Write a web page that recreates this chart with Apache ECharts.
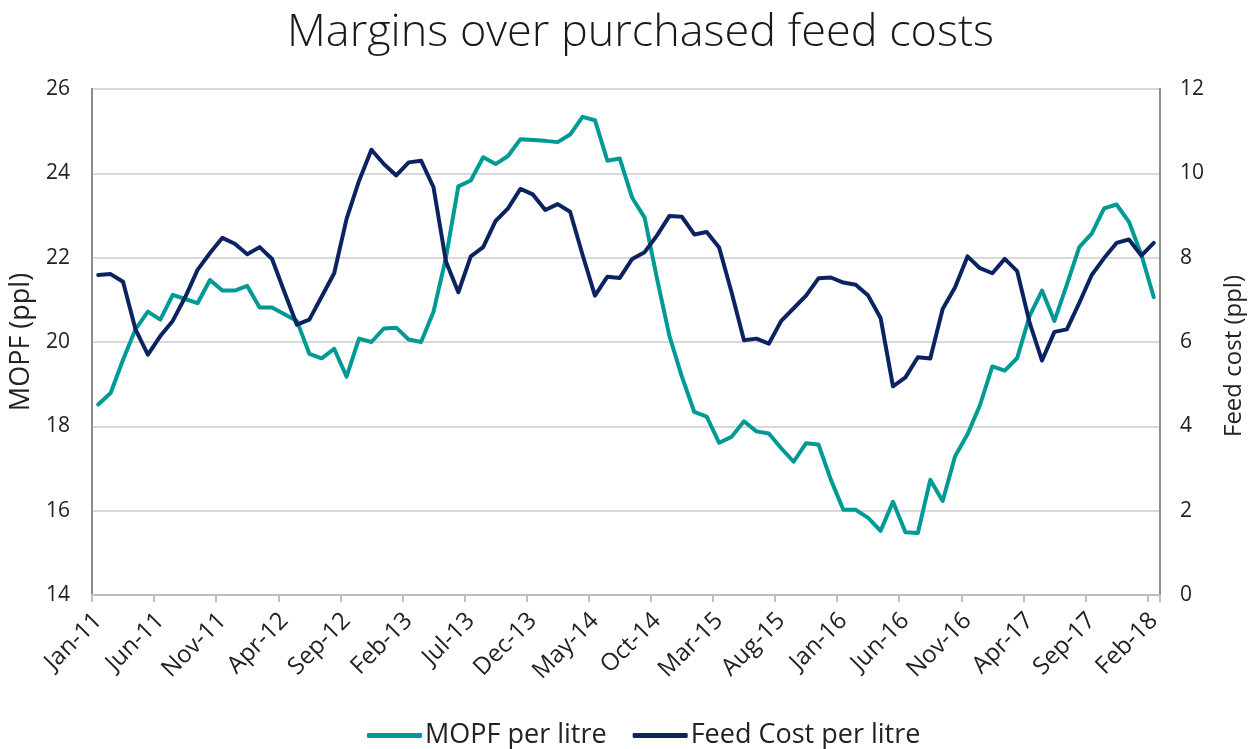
<!DOCTYPE html>
<html>
<head>
<meta charset="utf-8">
<script src="https://cdn.jsdelivr.net/npm/echarts@6/dist/echarts.min.js"></script>
<style>
  html, body { margin: 0; padding: 0; background: #fff; }
  #chart { width: 1258px; height: 749px; }
</style>
</head>
<body>
<div id="chart"></div>
<script>
var months = [
  'Jan-11','Feb-11','Mar-11','Apr-11','May-11','Jun-11','Jul-11','Aug-11','Sep-11','Oct-11','Nov-11','Dec-11',
  'Jan-12','Feb-12','Mar-12','Apr-12','May-12','Jun-12','Jul-12','Aug-12','Sep-12','Oct-12','Nov-12','Dec-12',
  'Jan-13','Feb-13','Mar-13','Apr-13','May-13','Jun-13','Jul-13','Aug-13','Sep-13','Oct-13','Nov-13','Dec-13',
  'Jan-14','Feb-14','Mar-14','Apr-14','May-14','Jun-14','Jul-14','Aug-14','Sep-14','Oct-14','Nov-14','Dec-14',
  'Jan-15','Feb-15','Mar-15','Apr-15','May-15','Jun-15','Jul-15','Aug-15','Sep-15','Oct-15','Nov-15','Dec-15',
  'Jan-16','Feb-16','Mar-16','Apr-16','May-16','Jun-16','Jul-16','Aug-16','Sep-16','Oct-16','Nov-16','Dec-16',
  'Jan-17','Feb-17','Mar-17','Apr-17','May-17','Jun-17','Jul-17','Aug-17','Sep-17','Oct-17','Nov-17','Dec-17',
  'Jan-18','Feb-18'
];

// margin over purchased feed, ppl (left axis)
var mopf = [
  18.52, 18.79, 19.58, 20.30, 20.72, 20.53, 21.12, 21.02, 20.92, 21.47, 21.22, 21.22,
  21.33, 20.82, 20.82, 20.66, 20.50, 19.72, 19.61, 19.84, 19.18, 20.08, 20.00, 20.32,
  20.34, 20.06, 20.00, 20.72, 22.00, 23.69, 23.83, 24.38, 24.22, 24.41, 24.81, 24.79,
  24.77, 24.74, 24.92, 25.34, 25.26, 24.30, 24.35, 23.42, 22.95, 21.50, 20.14, 19.18,
  18.34, 18.23, 17.61, 17.75, 18.12, 17.88, 17.83, 17.48, 17.16, 17.60, 17.57, 16.73,
  16.02, 16.02, 15.83, 15.52, 16.21, 15.49, 15.47, 16.73, 16.23, 17.29, 17.81, 18.50,
  19.42, 19.32, 19.62, 20.62, 21.22, 20.50, 21.36, 22.25, 22.57, 23.17, 23.26, 22.85,
  22.07, 21.06
];

// feed cost per litre, ppl (right axis)
var feedCost = [
  7.59, 7.61, 7.43, 6.30, 5.70, 6.14, 6.50, 7.06, 7.71, 8.11, 8.47, 8.33,
  8.08, 8.25, 7.97, 7.18, 6.41, 6.53, 7.08, 7.63, 8.92, 9.82, 10.56, 10.22,
  9.95, 10.26, 10.30, 9.67, 7.91, 7.18, 8.03, 8.25, 8.87, 9.17, 9.63, 9.50,
  9.13, 9.27, 9.09, 8.07, 7.10, 7.55, 7.52, 7.97, 8.13, 8.53, 8.99, 8.97,
  8.55, 8.61, 8.24, 7.18, 6.04, 6.08, 5.96, 6.50, 6.80, 7.10, 7.51, 7.53,
  7.41, 7.36, 7.10, 6.57, 4.95, 5.16, 5.64, 5.61, 6.78, 7.30, 8.03, 7.75,
  7.63, 7.97, 7.68, 6.46, 5.56, 6.24, 6.30, 6.93, 7.59, 7.99, 8.35, 8.43,
  8.05, 8.35
];

var seriesNames = ['MOPF per litre', 'Feed Cost per litre'];

var fontFamily = '"Open Sans", "DejaVu Sans", sans-serif';
var chart = echarts.init(document.getElementById('chart'));

var option = {
  animation: false,
  textStyle: { fontFamily: fontFamily },
  color: ['#009A96', '#0B2461'],
  title: {
    text: 'Margins over purchased feed costs',
    left: 282,
    top: 6,
    textStyle: { fontSize: 45, fontWeight: 300, color: '#1a1a1a', fontFamily: fontFamily }
  },
  legend: {
    data: seriesNames,
    bottom: -5,
    left: 362,
    icon: 'roundRect',
    itemWidth: 55,
    itemHeight: 5,
    itemGap: 26,
    textStyle: { fontSize: 27, color: '#222', padding: [0, 0, 0, -2] }
  },
  grid: {
    left: 92,
    right: 98,
    top: 89,
    bottom: 154,
    show: true,
    borderColor: '#8c8c8c',
    borderWidth: 2,
    containLabel: false
  },
  xAxis: {
    type: 'category',
    data: months,
    boundaryGap: true,
    axisLine: { lineStyle: { color: '#bfbfbf', width: 2 } },
    axisTick: { show: true, interval: 4, length: 7, lineStyle: { color: '#bfbfbf', width: 2 } },
    axisLabel: { interval: 4, rotate: 45, fontSize: 24, color: '#222', margin: 22 }
  },
  yAxis: [
    {
      type: 'value',
      min: 14,
      max: 26,
      interval: 2,
      name: 'MOPF (ppl)',
      nameLocation: 'middle',
      nameRotate: 90,
      nameGap: 52,
      nameTextStyle: { fontSize: 27, color: '#222' },
      axisLine: { show: true, lineStyle: { color: '#8c8c8c', width: 2 } },
      axisTick: { show: false },
      axisLabel: { fontSize: 21, color: '#222', margin: 22 },
      splitLine: { lineStyle: { color: '#d9d9d9', width: 2 } }
    },
    {
      type: 'value',
      min: 0,
      max: 12,
      interval: 2,
      name: 'Feed cost (ppl)',
      nameLocation: 'middle',
      nameRotate: 90,
      nameGap: 62,
      nameTextStyle: { fontSize: 24, color: '#222', padding: [0, 0, 0, -28] },
      axisLine: { show: true, lineStyle: { color: '#8c8c8c', width: 2 } },
      axisTick: { show: false },
      axisLabel: { fontSize: 21, color: '#222', margin: 20 },
      splitLine: { show: false }
    }
  ],
  series: [
    {
      name: seriesNames[0],
      type: 'line',
      yAxisIndex: 0,
      data: mopf,
      symbol: 'none',
      lineStyle: { width: 4, join: 'round', cap: 'round' }
    },
    {
      name: seriesNames[1],
      type: 'line',
      yAxisIndex: 1,
      data: feedCost,
      symbol: 'none',
      lineStyle: { width: 4, join: 'round', cap: 'round' }
    }
  ]
};

chart.setOption(option);
</script>
</body>
</html>
